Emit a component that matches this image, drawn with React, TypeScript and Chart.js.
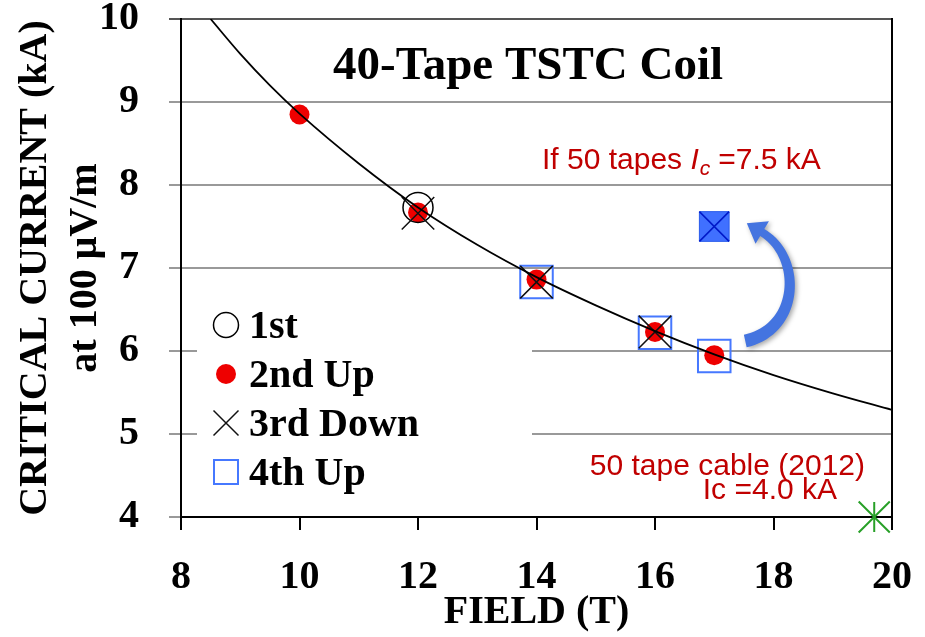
import React, { useEffect, useRef } from 'react';
import { Chart, registerables } from 'chart.js';

Chart.register(...registerables);

// ---- data ----
const FIELD_TICKS = [8, 10, 12, 14, 16, 18, 20];
const CURRENT_TICKS = [4, 5, 6, 7, 8, 9, 10];

const fitField = [8.5, 9, 9.5, 10, 11, 12, 13, 14, 15, 16, 17, 18, 19, 20];
const fitCurrent = [10.0, 9.58, 9.2, 8.86, 8.26, 7.73, 7.28, 6.89, 6.55, 6.24, 5.96, 5.71, 5.49, 5.29];

const firstField = [12];
const firstCurrent = [7.73];
const secondField = [10, 12, 14, 16, 17];
const secondCurrent = [8.85, 7.67, 6.86, 6.23, 5.95];
const thirdField = [12, 14, 16];
const thirdCurrent = [7.66, 6.83, 6.23];
const fourthField = [14, 16, 17];
const fourthCurrent = [6.83, 6.22, 5.94];
const projectedField = [17];
const projectedCurrent = [7.5];
const cableField = [19.7];
const cableCurrent = [4.0];

const LEGEND_LABELS = ['1st', '2nd Up', '3rd Down', '4th Up'];
const CHART_TITLE = '40-Tape TSTC Coil';
const X_TITLE = 'FIELD (T)';
const Y_TITLE = ['CRITICAL CURRENT (kA)', 'at 100 μV/m'];

const SERIF = "'Liberation Serif', 'Times New Roman', serif";
const SANS = "'Liberation Sans', Arial, sans-serif";
const RED = '#c00000';

function drawIcon(ctx: CanvasRenderingContext2D, d: any, x: number, y: number) {
  ctx.save();
  ctx.strokeStyle = d.borderColor;
  ctx.fillStyle = d.backgroundColor;
  ctx.lineWidth = 1.5;
  if (d.pointStyle === 'circle') {
    ctx.beginPath();
    if (d.borderWidth === 0) {
      ctx.arc(x, y, 10, 0, Math.PI * 2);
      ctx.fill();
    } else {
      ctx.arc(x, y, 12.5, 0, Math.PI * 2);
      ctx.stroke();
    }
  } else if (d.pointStyle === 'crossRot') {
    ctx.beginPath();
    ctx.moveTo(x - 12.5, y - 12.5);
    ctx.lineTo(x + 12.5, y + 12.5);
    ctx.moveTo(x + 12.5, y - 12.5);
    ctx.lineTo(x - 12.5, y + 12.5);
    ctx.stroke();
  } else if (d.pointStyle === 'rect') {
    ctx.lineWidth = 2;
    ctx.strokeRect(x - 12, y - 12, 24, 24);
  }
  ctx.restore();
}

const decorPlugin = {
  id: 'decor',
  beforeDatasetsDraw(chart: any) {
    const { ctx, chartArea: a } = chart;
    ctx.save();
    ctx.fillStyle = '#ffffff';
    ctx.fillRect(a.left + 16, 298, 335, 208);
    ctx.restore();
  },
  afterDatasetsDraw(chart: any) {
    const { ctx, chartArea: a, scales } = chart;
    const xs = scales.x;
    const ys = scales.y;
    ctx.save();

    // right border
    ctx.strokeStyle = '#000';
    ctx.lineWidth = 2;
    ctx.beginPath();
    ctx.moveTo(a.right, a.top - 1);
    ctx.lineTo(a.right, a.bottom);
    ctx.stroke();

    // chart title inside the plot
    ctx.fillStyle = '#000';
    ctx.font = `bold 47px ${SERIF}`;
    ctx.textAlign = 'center';
    ctx.textBaseline = 'middle';
    ctx.fillText(CHART_TITLE, 528, 67);

    // legend
    ctx.font = `bold 40px ${SERIF}`;
    ctx.textAlign = 'left';
    const dss = chart.data.datasets;
    LEGEND_LABELS.forEach((lab, i) => {
      const d = dss.find((q: any) => q.label === lab);
      const cy = 328 + i * 49;
      if (d) drawIcon(ctx, d, a.left + 45, cy - 3);
      ctx.fillStyle = '#000';
      ctx.fillText(lab, a.left + 68, cy);
    });

    // red annotations
    ctx.fillStyle = RED;
    ctx.textBaseline = 'alphabetic';
    ctx.font = `30px ${SANS}`;
    let tx = 542;
    const by = 169;
    const part1 = 'If 50 tapes ';
    ctx.fillText(part1, tx, by);
    tx += ctx.measureText(part1).width;
    ctx.font = `italic 30px ${SANS}`;
    ctx.fillText('I', tx, by);
    tx += ctx.measureText('I').width + 1;
    ctx.font = `italic 21px ${SANS}`;
    ctx.fillText('c', tx, by + 6);
    tx += ctx.measureText('c').width + 8;
    ctx.font = `30px ${SANS}`;
    ctx.fillText('=7.5 kA', tx, by);

    ctx.textAlign = 'right';
    ctx.fillText('50 tape cable (2012)', 865, 475);
    ctx.fillText('Ic =4.0 kA', 837, 499);

    // curved blue arrow from 4th Up @17T to projected point
    const bx = xs.getPixelForValue(fourthField[2]);
    const by0 = ys.getPixelForValue(fourthCurrent[2]);
    const px = xs.getPixelForValue(projectedField[0]);
    const py = ys.getPixelForValue(projectedCurrent[0]);
    const P0 = [bx + 31, by0 - 15];
    const P3 = [px + 48, py + 6];
    const P1 = [P0[0] + 55, P0[1] - 12];
    const P2 = [P3[0] + 40, P3[1] + 24];
    const bez = (t: number) => {
      const u = 1 - t;
      return [
        u * u * u * P0[0] + 3 * u * u * t * P1[0] + 3 * u * t * t * P2[0] + t * t * t * P3[0],
        u * u * u * P0[1] + 3 * u * u * t * P1[1] + 3 * u * t * t * P2[1] + t * t * t * P3[1],
      ];
    };
    const der = (t: number) => {
      const u = 1 - t;
      return [
        3 * u * u * (P1[0] - P0[0]) + 6 * u * t * (P2[0] - P1[0]) + 3 * t * t * (P3[0] - P2[0]),
        3 * u * u * (P1[1] - P0[1]) + 6 * u * t * (P2[1] - P1[1]) + 3 * t * t * (P3[1] - P2[1]),
      ];
    };
    const N = 40;
    const left: number[][] = [];
    const right: number[][] = [];
    for (let i = 0; i <= N; i++) {
      const t = i / N;
      const p = bez(t);
      const d = der(t);
      const len = Math.hypot(d[0], d[1]) || 1;
      const nx = -d[1] / len;
      const ny = d[0] / len;
      const w = (13 - 5 * t) / 2;
      left.push([p[0] + nx * w, p[1] + ny * w]);
      right.push([p[0] - nx * w, p[1] - ny * w]);
    }
    const dEnd = der(1);
    const le = Math.hypot(dEnd[0], dEnd[1]);
    const dx = dEnd[0] / le;
    const dy = dEnd[1] / le;
    const nx = -dy;
    const ny = dx;
    ctx.shadowColor = 'rgba(0,0,0,0.35)';
    ctx.shadowBlur = 5;
    ctx.shadowOffsetX = 2;
    ctx.shadowOffsetY = 2;
    ctx.fillStyle = 'rgb(68,116,224)';
    ctx.beginPath();
    ctx.moveTo(left[0][0], left[0][1]);
    left.forEach((q) => ctx.lineTo(q[0], q[1]));
    ctx.lineTo(P3[0] + nx * 13, P3[1] + ny * 13);
    ctx.lineTo(P3[0] + dx * 18, P3[1] + dy * 18);
    ctx.lineTo(P3[0] - nx * 13, P3[1] - ny * 13);
    for (let i = right.length - 1; i >= 0; i--) ctx.lineTo(right[i][0], right[i][1]);
    ctx.closePath();
    ctx.fill();
    ctx.restore();
  },
};

const pts = (xs: number[], ys: number[]) => xs.map((x, i) => ({ x, y: ys[i] }));

const zeroPad = (s: any) => {
  s.paddingTop = 0;
  s.paddingBottom = 0;
  s.paddingLeft = 0;
  s.paddingRight = 0;
};

export default function App() {
  const ref = useRef<HTMLCanvasElement>(null);
  useEffect(() => {
    document.body.style.margin = '0';
    const canvas = ref.current;
    if (!canvas) return;
    const chart = new Chart(canvas, {
      type: 'scatter',
      data: {
        datasets: [
          {
            label: LEGEND_LABELS[0],
            data: pts(firstField, firstCurrent),
            pointStyle: 'circle',
            pointRadius: 15,
            borderColor: '#000',
            backgroundColor: 'rgba(0,0,0,0)',
            borderWidth: 1.5,
            order: 4,
          },
          {
            label: LEGEND_LABELS[1],
            data: pts(secondField, secondCurrent),
            pointStyle: 'circle',
            pointRadius: 10,
            borderColor: 'rgb(238,0,0)',
            backgroundColor: 'rgb(238,0,0)',
            borderWidth: 0,
            order: 5,
          },
          {
            label: LEGEND_LABELS[2],
            data: pts(thirdField, thirdCurrent),
            pointStyle: 'crossRot',
            pointRadius: 23,
            borderColor: '#111',
            backgroundColor: 'rgba(0,0,0,0)',
            borderWidth: 1.5,
            order: 2,
          },
          {
            label: LEGEND_LABELS[3],
            data: pts(fourthField, fourthCurrent),
            pointStyle: 'rect',
            pointRadius: 23,
            borderColor: 'rgb(70,120,255)',
            backgroundColor: 'rgba(0,0,0,0)',
            borderWidth: 2,
            order: 3,
          },
          {
            label: 'Fit',
            data: pts(fitField, fitCurrent),
            showLine: true,
            pointRadius: 0,
            borderColor: '#000',
            borderWidth: 1.8,
            cubicInterpolationMode: 'monotone',
            fill: false,
            order: 1,
          },
          {
            label: 'If 50 tapes',
            data: pts(projectedField, projectedCurrent),
            pointStyle: 'rect',
            pointRadius: 21,
            backgroundColor: 'rgb(64,112,255)',
            borderColor: 'rgb(40,90,235)',
            borderWidth: 1,
            order: 1,
          },
          {
            label: 'If 50 tapes (x)',
            data: pts(projectedField, projectedCurrent),
            pointStyle: 'crossRot',
            pointRadius: 21,
            borderColor: 'rgb(0,25,200)',
            borderWidth: 1.5,
            order: 0,
          },
          {
            label: '50 tape cable (2012)',
            data: pts(cableField, cableCurrent),
            pointStyle: 'crossRot',
            pointRadius: 22,
            borderColor: 'rgb(40,160,40)',
            borderWidth: 2,
            clip: false,
            order: 0,
          },
          {
            label: '50 tape cable (2012) (|)',
            data: pts(cableField, cableCurrent),
            pointStyle: 'line',
            pointRotation: 90,
            pointRadius: 15,
            borderColor: 'rgb(40,160,40)',
            borderWidth: 2,
            clip: false,
            order: 0,
          },
        ] as any,
      },
      options: {
        responsive: false,
        animation: false,
        events: [],
        layout: { padding: { top: 19, right: 33, left: 0, bottom: 0 }, autoPadding: false } as any,
        plugins: {
          legend: { display: false },
          tooltip: { enabled: false },
          title: { display: false },
        },
        scales: {
          x: {
            type: 'linear',
            min: 8,
            max: 20,
            afterFit: (s: any) => {
              s.height = 120;
              zeroPad(s);
            },
            afterBuildTicks: (s: any) => {
              s.ticks = FIELD_TICKS.map((v) => ({ value: v }));
            },
            grid: { drawOnChartArea: false, drawTicks: true, tickLength: 13, color: '#000', lineWidth: 2 },
            border: { display: true, color: '#000', width: 2 },
            ticks: {
              color: '#000',
              font: { family: SERIF, size: 40, weight: 'bold' },
              padding: 24,
              maxRotation: 0,
              autoSkip: false,
            },
            title: {
              display: true,
              text: X_TITLE,
              color: '#000',
              font: { family: SERIF, size: 40, weight: 'bold', lineHeight: 1.2 },
              padding: { top: 0, bottom: 0 },
            },
          },
          y: {
            type: 'linear',
            min: 4,
            max: 10,
            afterFit: (s: any) => {
              s.width = 181;
              zeroPad(s);
            },
            afterBuildTicks: (s: any) => {
              s.ticks = CURRENT_TICKS.map((v) => ({ value: v }));
            },
            grid: {
              color: (c: any) => (c.tick && c.tick.value === 10 ? '#555' : '#999'),
              lineWidth: 2,
              tickLength: 12,
            },
            border: { display: true, color: '#000', width: 2 },
            ticks: {
              color: '#000',
              font: { family: SERIF, size: 40, weight: 'bold' },
              padding: 30,
            },
            title: {
              display: true,
              text: Y_TITLE,
              color: '#000',
              font: { family: SERIF, size: 40, weight: 'bold', lineHeight: 1.25 },
              padding: { top: 11, bottom: 0 },
            },
          },
        },
      } as any,
      plugins: [decorPlugin as any],
    });
    return () => chart.destroy();
  }, []);
  return (
    <div style={{ position: 'absolute', left: 0, top: 0, width: 925, height: 637, background: '#fff' }}>
      <canvas ref={ref} width={925} height={637} style={{ display: 'block' }} />
    </div>
  );
}
